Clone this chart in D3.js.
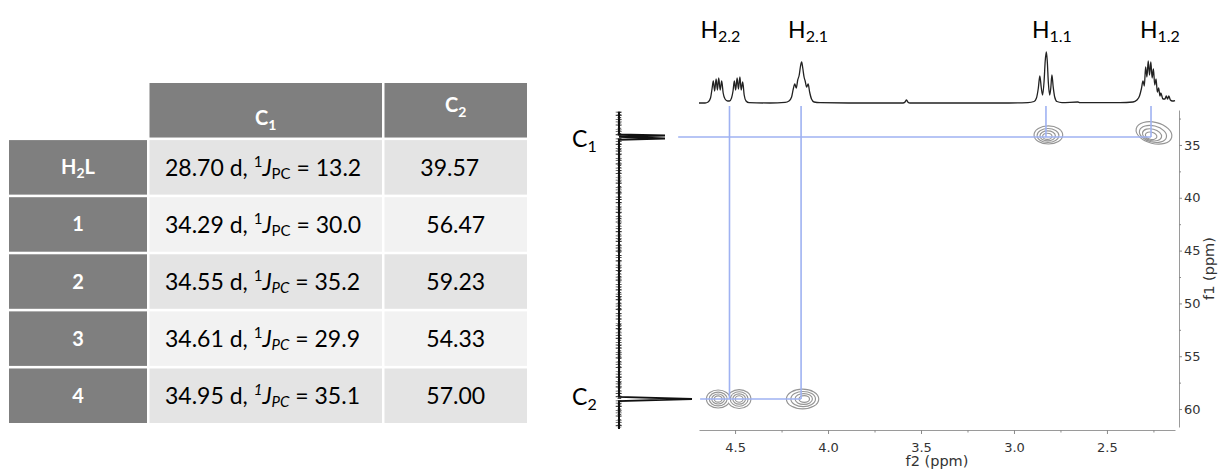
<!DOCTYPE html>
<html><head><meta charset="utf-8">
<script src="https://cdn.jsdelivr.net/npm/d3@7"></script>
<style>body{margin:0;background:#fff} svg{display:block} text{white-space:pre}</style>
</head><body><svg id="c" width="1218" height="471"></svg>
<script>
// ---------------- table data ----------------
const rowLabels = ["H_2L", "1", "2", "3", "4"];
const colHeaders = ["C_1", "C_2"];
const c1Shift = [28.70, 34.29, 34.55, 34.61, 34.95];
const jPC = [13.2, 30.0, 35.2, 29.9, 35.1];
const c2Shift = [39.57, 56.47, 59.23, 54.33, 57.00];

// ---------------- spectrum data ----------------
// 1H projection: [ppm, intensity a.u.]
const protonTrace = [
 [4.694,0],[4.661,0],[4.645,1],[4.632,5],[4.624,14],[4.617,22],[4.610,12],[4.602,24],[4.595,13],
 [4.588,25],[4.580,13],[4.572,22],[4.564,10],[4.554,4],[4.540,2],[4.530,2],[4.519,5],[4.511,12],
 [4.504,22],[4.497,13],[4.489,25],[4.482,14],[4.474,26],[4.467,13],[4.459,21],[4.451,8],[4.441,2],
 [4.425,0.3],[4.312,0],[4.231,0.6],[4.210,2],[4.196,6],[4.187,14],[4.179,19],[4.171,15],[4.163,23],
 [4.155,28],[4.148,37],[4.142,41],[4.136,35],[4.129,26],[4.123,22],[4.115,16],[4.107,19],[4.099,11],
 [4.089,4],[4.075,1],[4.043,0.3],[3.828,0],[3.597,0],[3.586,1],[3.578,3],[3.570,0.8],[3.559,0],
 [3.075,0],[2.925,0.4],[2.892,1.5],[2.879,5],[2.869,15],[2.861,27],[2.853,15],[2.846,8],[2.838,22],
 [2.832,42],[2.826,51],[2.821,42],[2.815,20],[2.808,8],[2.802,15],[2.796,28],[2.789,16],[2.781,6],
 [2.769,1.5],[2.742,0.4],[2.656,1.0],[2.645,0.3],[2.430,0.3],[2.360,1],[2.339,3],[2.325,7],[2.315,14],
 [2.306,22],[2.299,17],[2.292,36],[2.285,26],[2.278,42],[2.271,28],[2.264,41],[2.257,25],[2.250,34],
 [2.243,18],[2.236,24],[2.229,11],[2.222,15],[2.215,7],[2.210,10],[2.199,4],[2.188,4],[2.181,7],
 [2.174,4],[2.167,7],[2.159,3],[2.148,2],[2.134,2.5]
];
// 13C projection: [ppm, intensity a.u.]
const carbonTrace = [
 [31.86,0],[34.00,0],[34.10,46],[34.22,0],[34.38,46],[34.50,0],
 [58.85,0],[59.05,73],[59.25,0],[61.90,0]
];
const f2Ticks = [4.5, 4.0, 3.5, 3.0, 2.5];
const f2Minor = [4.25, 3.75, 3.25, 2.75, 2.25];
const f1Ticks = [35, 40, 45, 50, 55, 60];
const f1Minor = [32.5, 37.5, 42.5, 47.5, 52.5, 57.5];
const f2Range = [4.694, 2.134];
const f1Range = [31.69, 61.70];

const hLabels = ["H_2.2", "H_2.1", "H_1.1", "H_1.2"];
const hShifts = [4.530, 4.145, 2.828, 2.263];
const hCarbon = [1, 1, 0, 0];
const carbonLabels = ["C_1", "C_2"];
const carbonShifts = [34.24, 59.05];
const guideStart = [4.806, 4.688];

// cross peaks (HSQC)
const cpH = [4.591, 4.478, 4.124, 2.823, 2.269];
const cpC = [59.05, 59.05, 59.05, 34.24, 34.24];
const cpSkewH = [0, 0, 0.013, -0.008, -0.022];
const cpSkewC = [0, 0, 0, -0.19, -0.38];
const cpHalfH = [0.060, 0.060, 0.084, 0.074, 0.095];
const cpHalfC = [0.80, 0.84, 0.88, 0.80, 0.95];
const cpTilt = [0, 0, 0, 0, 14];
const contourLevels = [1, 0.75, 0.52, 0.3];

// ---------------- drawing ----------------
const svg = d3.select("#c");
svg.append("rect").attr("width", 1218).attr("height", 471).attr("fill", "#fff");
const FONT = "Lato, 'Open Sans', sans-serif";

function rich(t, str, subSize, subDy) {
  const m = str.match(/^([^_]*)_([0-9.]+)(.*)$/);
  if (!m) { t.text(str); return; }
  t.append("tspan").text(m[1]);
  t.append("tspan").attr("font-size", subSize).attr("dy", subDy).text(m[2]);
  if (m[3]) t.append("tspan").attr("dy", -subDy).text(m[3]);
}

// table
const tbl = svg.append("g");
const yRow = d3.scaleBand().domain(d3.range(rowLabels.length + 1)).range([83, 423]).paddingInner(0.045);
const bw = yRow.bandwidth();
const cols = [{x0: 9, x1: 147}, {x0: 149.5, x1: 382}, {x0: 384.5, x1: 527}];
const hdrBase = [42, 28.7];
colHeaders.forEach((h, i) => {
  const c = cols[i + 1];
  tbl.append("rect").attr("x", c.x0).attr("y", yRow(0)).attr("width", c.x1 - c.x0)
    .attr("height", bw).attr("fill", "#7f7f7f");
  const t = tbl.append("text").attr("x", (c.x0 + c.x1) / 2).attr("y", yRow(0) + hdrBase[i])
    .attr("text-anchor", "middle").attr("font-family", FONT).attr("font-weight", "bold")
    .attr("font-size", 20).attr("fill", "#fff");
  rich(t, h, 14, 5);
});
const pcItalic = [false, false, true, true, true];
const supItalic = [false, false, false, false, true];
const c2Dx = [-6, 0, 0, 0, 0];
rowLabels.forEach((lab, i) => {
  const y0 = yRow(i + 1), cy = y0 + bw / 2;
  const rc = cols[0];
  tbl.append("rect").attr("x", rc.x0).attr("y", y0).attr("width", rc.x1 - rc.x0)
    .attr("height", bw).attr("fill", "#7f7f7f");
  const t = tbl.append("text").attr("x", (rc.x0 + rc.x1) / 2).attr("y", cy + 7)
    .attr("text-anchor", "middle").attr("font-family", FONT).attr("font-weight", "bold")
    .attr("font-size", 20).attr("fill", "#fff");
  rich(t, lab, 14, 4);
  const fill = i % 2 === 0 ? "#e4e4e4" : "#f2f2f2";
  [1, 2].forEach(k => {
    tbl.append("rect").attr("x", cols[k].x0).attr("y", y0).attr("width", cols[k].x1 - cols[k].x0)
      .attr("height", bw).attr("fill", fill);
  });
  const t1 = tbl.append("text").attr("x", cols[1].x0 + 15.5).attr("y", cy + 8.3)
    .attr("font-family", FONT).attr("font-size", 23).attr("fill", "#000");
  t1.append("tspan").text(c1Shift[i].toFixed(2) + " d, ");
  t1.append("tspan").attr("font-size", 15).attr("dy", -9).attr("font-style", supItalic[i] ? "italic" : "normal").text("1");
  t1.append("tspan").attr("dy", 9).attr("font-style", "italic").text("J");
  t1.append("tspan").attr("font-size", 15).attr("dy", 3).attr("font-style", pcItalic[i] ? "italic" : "normal").text("PC");
  t1.append("tspan").attr("dy", -3).text(" = " + jPC[i].toFixed(1));
  tbl.append("text").attr("x", (cols[2].x0 + cols[2].x1) / 2 + c2Dx[i]).attr("y", cy + 8.3)
    .attr("text-anchor", "middle").attr("font-family", FONT).attr("font-size", 23).attr("fill", "#000")
    .text(c2Shift[i].toFixed(2));
});

// spectrum scales
const x = d3.scaleLinear().domain(f2Range).range([699, 1175]);
const y = d3.scaleLinear().domain(f1Range).range([110, 427]);
const pI = d3.scaleLinear().domain([0, 51]).range([103, 52]);
const cI = d3.scaleLinear().domain([0, 73]).range([619, 692]);

const spec = svg.append("g");

// contours (union of outlines per level)
const cg = spec.append("g");
contourLevels.forEach(t => {
  const sel = cpH.map((h, i) => {
    const ch = h + t * cpSkewH[i], cc = cpC[i] + t * cpSkewC[i];
    return {cx: x(ch), cy: y(cc), rx: Math.abs(x(ch + t * cpHalfH[i]) - x(ch)),
            ry: Math.abs(y(cc + t * cpHalfC[i]) - y(cc)), tilt: cpTilt[i]};
  });
  const draw = (stroke) => cg.selectAll(null).data(sel).join("ellipse")
    .attr("cx", d => d.cx).attr("cy", d => d.cy).attr("rx", d => d.rx).attr("ry", d => d.ry)
    .attr("transform", d => `rotate(${d.tilt},${d.cx},${d.cy})`)
    .attr("fill", stroke ? "none" : "#fff")
    .attr("stroke", stroke ? "#959595" : "none").attr("stroke-width", 2.3);
  draw(true); draw(false);
});

// blue guide lines
const blue = "#9fb2f2";
hShifts.forEach((h, i) => {
  spec.append("line").attr("x1", x(h)).attr("x2", x(h))
    .attr("y1", pI(0) + 3).attr("y2", y(carbonShifts[hCarbon[i]]))
    .attr("stroke", blue).attr("stroke-width", 1.6);
});
carbonShifts.forEach((c, k) => {
  const endH = d3.min(hShifts.filter((h, i) => hCarbon[i] === k));
  spec.append("line").attr("x1", x(guideStart[k])).attr("x2", x(endH))
    .attr("y1", y(c)).attr("y2", y(c)).attr("stroke", blue).attr("stroke-width", 1.6);
});

// proton trace
spec.append("path").datum(protonTrace)
  .attr("d", d3.line().x(d => x(d[0])).y(d => pI(d[1])).curve(d3.curveMonotoneX))
  .attr("fill", "none").attr("stroke", "#222").attr("stroke-width", 1.3);

// carbon trace (noisy baseline look, drawn as irregular hatching)
const cExt = d3.extent(carbonTrace, d => d[0]);
const noise = [["6", "0.8 2.1 1.2 3.3 0.7 1.6"], ["3.6", "1.1 1.4 0.6 2.2"]];
noise.forEach(([w, da], j) => {
  spec.append("line").attr("x1", cI(0) + (j ? 0.4 : -0.3)).attr("x2", cI(0) + (j ? 0.4 : -0.3))
    .attr("y1", y(cExt[0])).attr("y2", y(cExt[1]))
    .attr("stroke", "#1e1e1e").attr("stroke-width", w).attr("stroke-dasharray", da).attr("opacity", 0.8);
});
spec.append("path").datum(carbonTrace)
  .attr("d", d3.line().x(d => cI(d[1])).y(d => y(d[0])))
  .attr("fill", "none").attr("stroke", "#111").attr("stroke-width", 2);

// axes
const AXF = "'DejaVu Sans', Verdana, sans-serif";
spec.append("g").attr("transform", "translate(0,430)")
  .call(d3.axisBottom(x).tickValues(f2Ticks).tickSize(4).tickSizeOuter(0).tickPadding(9).tickFormat(d3.format(".1f")));
spec.append("g").attr("transform", "translate(0,430)")
  .call(d3.axisBottom(x).tickValues(f2Minor).tickSize(2.5).tickSizeOuter(0).tickFormat(""))
  .select(".domain").remove();
spec.append("g").attr("transform", "translate(1179,0)")
  .call(d3.axisRight(y).tickValues(f1Ticks).tickSize(3).tickSizeOuter(0).tickPadding(2));
spec.append("g").attr("transform", "translate(1179,0)")
  .call(d3.axisRight(y).tickValues(f1Minor).tickSize(2).tickSizeOuter(0).tickFormat(""))
  .select(".domain").remove();
spec.selectAll(".domain").attr("stroke", "#9a9a9a");
spec.selectAll(".tick line").attr("stroke", "#8a8a8a");
spec.selectAll(".tick text").attr("font-family", AXF).attr("font-size", 13).attr("fill", "#333");

spec.append("text").attr("x", (x.range()[0] + x.range()[1]) / 2).attr("y", 466)
  .attr("text-anchor", "middle").attr("font-family", AXF).attr("font-size", 14.5).attr("fill", "#333")
  .text("f2 (ppm)");
spec.append("text").attr("transform", `translate(1214,${(y.range()[0] + y.range()[1]) / 2}) rotate(-90)`)
  .attr("text-anchor", "middle").attr("font-family", AXF).attr("font-size", 14.5).attr("fill", "#333")
  .text("f1 (ppm)");

// peak labels
const hLabelDx = [-29, -13, -14, -11];
hLabels.forEach((lab, i) => {
  const t = spec.append("text").attr("x", x(hShifts[i]) + hLabelDx[i]).attr("y", 38)
    .attr("font-family", FONT).attr("font-size", 23).attr("fill", "#000");
  rich(t, lab, 16, 4);
});
const cLabelDy = [10, 6];
carbonLabels.forEach((lab, k) => {
  const t = spec.append("text").attr("x", cI(0) - 47).attr("y", y(carbonShifts[k]) + cLabelDy[k])
    .attr("font-family", FONT).attr("font-size", 23).attr("fill", "#000");
  rich(t, lab, 16, 5);
});
</script></body></html>
